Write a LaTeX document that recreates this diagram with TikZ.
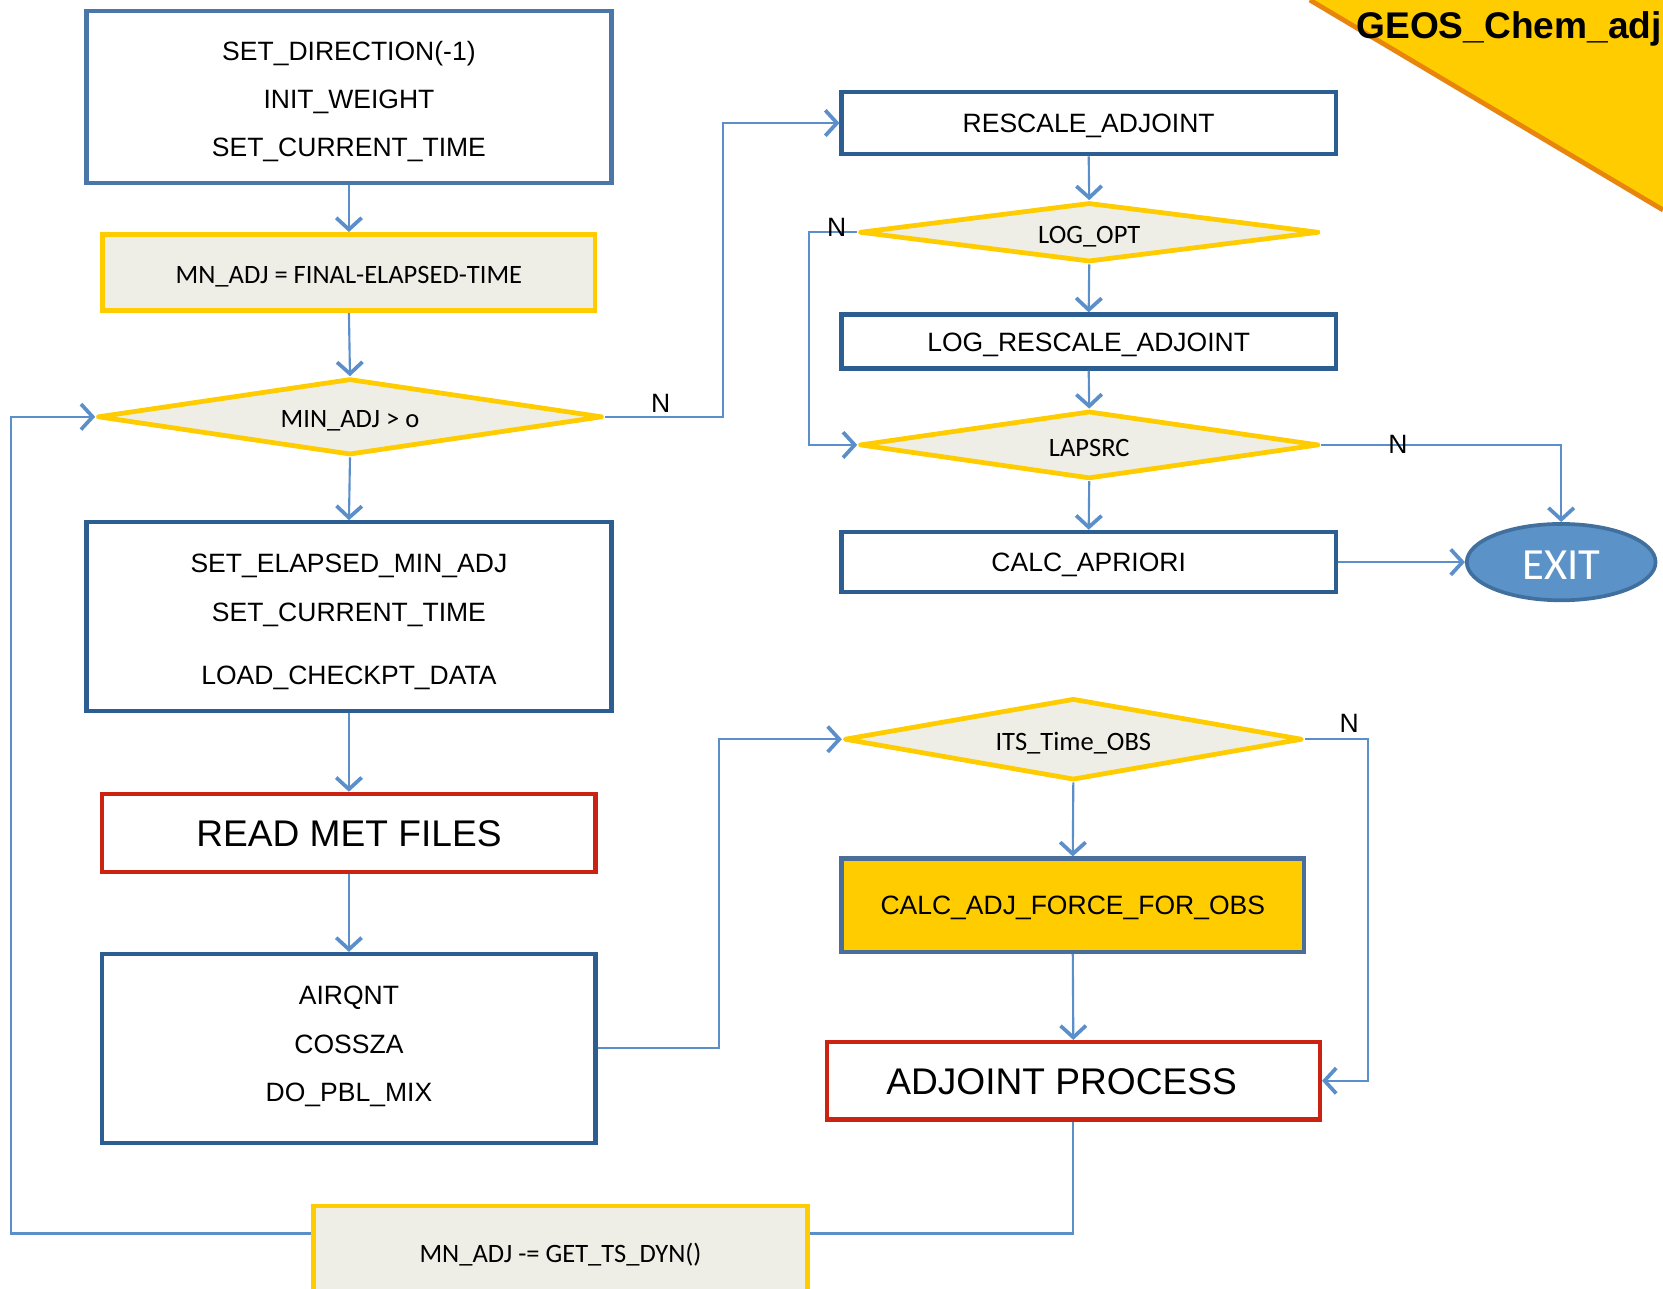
\documentclass[tikz,border=0pt]{standalone}
\usepackage{fontspec}
\setmainfont{Liberation Sans}
\newfontfamily\calfont{Carlito}
\usetikzlibrary{shapes.geometric,arrows.meta}

\definecolor{steelblue}{HTML}{4A77A8}
\definecolor{navyline}{HTML}{2D5E92}
\definecolor{goldline}{HTML}{FFCC00}
\definecolor{paper}{HTML}{EEEEE6}
\definecolor{redline}{HTML}{CC2211}
\definecolor{flowblue}{HTML}{5B8FCA}
\definecolor{exitfill}{HTML}{5B93C8}
\definecolor{exitline}{HTML}{41709F}
\definecolor{slateline}{HTML}{4A6E99}
\definecolor{cornerorange}{HTML}{E8850C}

\tikzset{
  arial/.style={font=\fontsize{25}{45.5}\selectfont},
  calib/.style={font=\calfont\fontsize{25}{30}\selectfont, text height=21pt, text depth=0pt},
  oneline/.style={text height=18pt, text depth=0pt},
  procbox/.style={draw=navyline, line width=4pt, rectangle, inner sep=0pt, arial, align=center},
  initbox/.style={procbox, draw=steelblue},
  assignbox/.style={draw=goldline, fill=paper, line width=4.5pt, rectangle, inner sep=0pt, calib},
  redbox/.style={draw=redline, line width=4pt, rectangle, inner sep=0pt, font=\fontsize{35}{40}\selectfont},
  decision/.style={draw=goldline, fill=paper, line width=4.5pt, line join=round, diamond, inner sep=0pt, aspect=6, calib},
  flow/.style={draw=flowblue, line width=2pt, -{Straight Barb[length=11pt,width=24pt,line width=3.5pt]}},
  plainflow/.style={draw=flowblue, line width=2pt},
  nlabel/.style={font=\fontsize{25}{30}\selectfont, inner sep=0pt},
}

\begin{document}
\begin{tikzpicture}[x=1pt,y=-1pt]
\useasboundingbox (0,0) rectangle (1568,1215);
\begin{scope}
\clip (0,0) rectangle (1568,1215);

% corner banner
\fill[goldline] (1235,0) -- (1568,198) -- (1568,0) -- cycle;
\draw[cornerorange, line width=4.5pt] (1235,0) -- (1568,198);
\node[anchor=east, inner sep=0pt, font=\bfseries\fontsize{35}{40}\selectfont] (title) at (1567,27) {GEOS\_Chem\_adj};

% left column
\node[initbox, minimum width=495, minimum height=162, text height=113pt, text depth=0pt] (init) at (329,91.5)
  {SET\_DIRECTION(-1)\\INIT\_WEIGHT\\SET\_CURRENT\_TIME};
\node[assignbox, minimum width=464, minimum height=72] (mnadj) at (329,257) {MN\_ADJ = FINAL-ELAPSED-TIME};
\node[decision, minimum width=476, minimum height=72] (minadj) at (330,393) {MIN\_ADJ > o};
\node[procbox, minimum width=495, minimum height=178, text height=128.5pt, text depth=0pt] (elapsed) at (329,581.5)
  {SET\_ELAPSED\_MIN\_ADJ\\SET\_CURRENT\_TIME\\[14.5pt]LOAD\_CHECKPT\_DATA};
\node[redbox, minimum width=465, minimum height=74, text height=26pt, text depth=0pt] (readmet) at (329,785.5) {READ MET FILES};
\node[procbox, minimum width=465, minimum height=178, text height=100pt, text depth=0pt] (airqnt) at (329,988.5)
  {AIRQNT\\COSSZA\\DO\_PBL\_MIX};
\node[assignbox, minimum width=466, minimum height=86] (getts) at (528.5,1180) {};
\node[calib, inner sep=0pt] (gettstext) at (528.5,1180) {MN\_ADJ -= GET\_TS\_DYN()};

% right column, upper part
\node[procbox, oneline, minimum width=466, minimum height=59] (rescale) at (1026.5,116) {RESCALE\_ADJOINT};
\node[decision, minimum width=433, minimum height=56] (logopt) at (1027,219) {LOG\_OPT};
\node[procbox, oneline, minimum width=466, minimum height=51] (logrescale) at (1026.5,322) {LOG\_RESCALE\_ADJOINT};
\node[decision, minimum width=433, minimum height=64] (lapsrc) at (1027,419.5) {LAPSRC};
\node[procbox, oneline, minimum width=466, minimum height=57] (apriori) at (1026.5,530) {CALC\_APRIORI};
\node[ellipse, draw=exitline, fill=exitfill, line width=3.5pt, minimum width=178, minimum height=72,
      inner sep=0pt, text=white, text height=33pt, text depth=0pt,
      font=\calfont\fontsize{42}{46}\selectfont] (exit) at (1472,530) {EXIT};

% right column, lower part
\node[decision, minimum width=432, minimum height=77] (itstime) at (1012,697) {ITS\_Time\_OBS};
\node[procbox, oneline, draw=slateline, fill=goldline, minimum width=436, minimum height=88] (calcforce) at (1011.5,853.5)
  {CALC\_ADJ\_FORCE\_FOR\_OBS};
\node[redbox, minimum width=465, minimum height=73] (adjoint) at (1012,1019) {};
\node[inner sep=0pt, text height=26pt, text depth=0pt, font=\fontsize{35}{40}\selectfont] (adjointtext) at (1001,1019) {ADJOINT PROCESS};

% connectors, left column
\draw[flow] (init.south) -- (mnadj.north);
\draw[flow] (mnadj.south) -- (minadj.north);
\draw[flow] (minadj.south) -- (elapsed.north);
\draw[flow] (elapsed.south) -- (readmet.north);
\draw[flow] (readmet.south) -- (airqnt.north);
\draw[flow] (airqnt.east |- 0,988) -- (678,988) -- (678,697) -- (itstime.west);

% connectors, observation branch
\draw[flow] (itstime.south) -- (calcforce.north);
\draw[flow] (calcforce.south) -- (adjoint.north);
\draw[flow] (itstime.east) -- (1290,697) -- (1290,1019) -- (adjoint.east);
\node[nlabel] (nits) at (1272,682) {N};

% loop back to the time test
\draw[plainflow] (adjoint.south) -- (1012,1163) -- (getts.east |- 0,1163);
\draw[flow] (getts.west |- 0,1163) -- (10,1163) -- (10,393) -- (minadj.west);

% exit branch
\draw[flow] (minadj.east) -- (682,393) -- (682,116) -- (rescale.west);
\node[nlabel] (nmin) at (623,380) {N};
\draw[flow] (rescale.south) -- (logopt.north);
\draw[flow] (logopt.south) -- (logrescale.north);
\draw[flow] (logrescale.south) -- (lapsrc.north);
\draw[flow] (logopt.west) -- (763,219) -- (763,419.5) -- (lapsrc.west);
\node[nlabel] (nlog) at (789,214) {N};
\draw[flow] (lapsrc.south) -- (apriori.north);
\draw[flow] (lapsrc.east) -- (1472,419.5) -- (exit.north);
\node[nlabel] (nlap) at (1318,419) {N};
\draw[flow] (apriori.east) -- (exit.west);
\end{scope}
\end{tikzpicture}
\end{document}
